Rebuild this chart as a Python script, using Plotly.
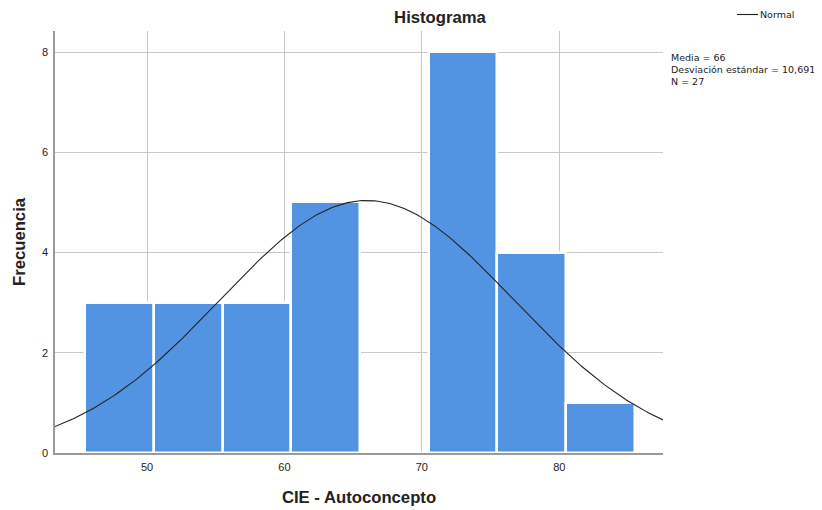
import numpy as np
import plotly.graph_objects as go

# Data
bin_centers = [48, 53, 58, 63, 68, 73, 78, 83]
counts = [3, 3, 3, 5, 0, 8, 4, 1]
bin_width = 5
mean = 66
sd = 10.691
n = 27
x_ticks = [50, 60, 70, 80]
y_ticks = [0, 2, 4, 6, 8]
stats_lines = [f"Media = {mean}",
               f"Desviación estándar = {str(sd).replace('.', ',')}",
               f"N = {n}"]

FONT = "Liberation Sans, Arial, sans-serif"
SFONT = "DejaVu Sans, sans-serif"

# page body has an 8px margin; compensate
OFF = 8
W, H = 822 - OFF, 510 - OFF
L, T = 55 - OFF, 31 - OFF
R = W - (663 - OFF)
B = H - (453 - OFF)
PW, PH = W - L - R, H - T - B

xr = [43.3, 87.55]
xs = np.linspace(xr[0], xr[1], 300)
ys = n * bin_width * np.exp(-0.5 * ((xs - mean) / sd) ** 2) / (sd * np.sqrt(2 * np.pi))

fig = go.Figure()
fig.add_trace(go.Bar(
    x=bin_centers, y=counts, width=[bin_width] * len(counts),
    marker=dict(color="#5294E2", line=dict(color="white", width=2.5)),
    showlegend=False, hoverinfo="skip",
))
fig.add_trace(go.Scatter(
    x=xs, y=ys, mode="lines", line=dict(color="#222222", width=1.1),
    name="Normal", showlegend=False,
))

def px_x(p):
    return (p - OFF - L) / PW

def px_y(p):
    return 1 - (p - OFF - T) / PH

fig.update_layout(
    width=W, height=H,
    paper_bgcolor="white", plot_bgcolor="white",
    margin=dict(l=L, r=R, t=T, b=B, autoexpand=False),
    font=dict(family=FONT, color="#222222", size=11),
    title=dict(text="<b>Histograma</b>", x=(440 - OFF) / W, xanchor="center",
               y=1 - (17 - OFF) / H, yanchor="middle", font=dict(size=16.7, family=FONT)),
    bargap=0,
    showlegend=False,
)
fig.update_xaxes(
    range=xr, tickvals=x_ticks, ticks="", showgrid=True, gridcolor="#C8C8C8", gridwidth=1,
    showline=True, linecolor="#9A9A9A", linewidth=1.5, zeroline=False, automargin=False,
    tickfont=dict(size=11, family=FONT), ticklabelstandoff=3,
    title=dict(text="<b>CIE - Autoconcepto</b>", font=dict(size=16.7, family=FONT), standoff=19),
)
fig.update_yaxes(
    range=[0, 8.42], tickvals=y_ticks, ticks="", showgrid=True, gridcolor="#C8C8C8", gridwidth=1,
    showline=True, linecolor="#9A9A9A", linewidth=1.5, zeroline=False, automargin=False,
    tickfont=dict(size=11, family=FONT), ticklabelstandoff=3,
    title=dict(text="<b>Frecuencia</b>", font=dict(size=16.7, family=FONT), standoff=12),
)
# legend drawn manually
fig.add_shape(type="line", xref="paper", yref="paper",
              x0=px_x(737), x1=px_x(758), y0=px_y(14.5), y1=px_y(14.5),
              line=dict(color="#222222", width=1.1))
fig.add_annotation(
    xref="paper", yref="paper", x=px_x(758), y=px_y(14.5),
    xanchor="left", yanchor="middle", showarrow=False, text="Normal",
    font=dict(size=9.5, family=SFONT, color="#222222"),
)
for line, yc in zip(stats_lines, [57.5, 69.5, 81.5]):
    fig.add_annotation(
        xref="paper", yref="paper", x=px_x(669), y=px_y(yc),
        xanchor="left", yanchor="middle", align="left", showarrow=False,
        text=line, font=dict(size=9.5, family=SFONT, color="#222222"),
    )
fig.write_html("out.html")
